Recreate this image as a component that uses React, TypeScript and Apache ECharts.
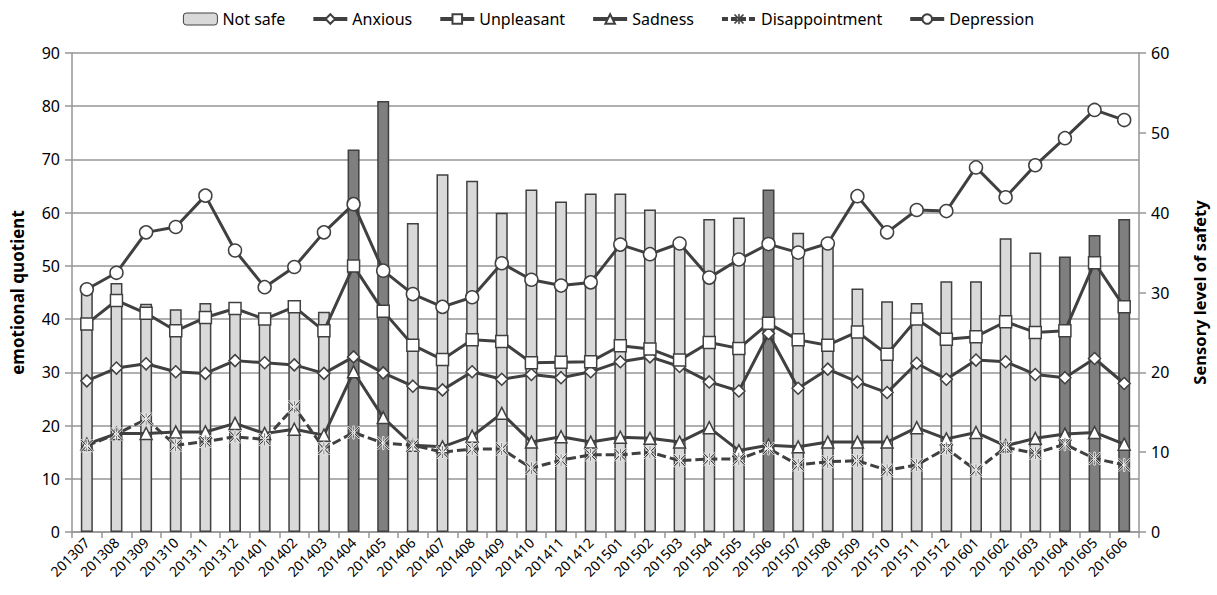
import React, { useEffect, useRef } from "react";
import * as echarts from "echarts";

// Months on the category axis
const months = [
  "201307", "201308", "201309", "201310", "201311", "201312",
  "201401", "201402", "201403", "201404", "201405", "201406",
  "201407", "201408", "201409", "201410", "201411", "201412",
  "201501", "201502", "201503", "201504", "201505", "201506",
  "201507", "201508", "201509", "201510", "201511", "201512",
  "201601", "201602", "201603", "201604", "201605", "201606",
];

// Sensory level of safety (right axis)
const notSafe = [
  30.0, 31.2, 28.6, 27.9, 28.7, 27.6,
  26.8, 28.7, 27.6, 47.9, 54.0, 38.7,
  44.8, 44.0, 40.0, 42.9, 41.4, 42.4,
  42.4, 40.4, 36.3, 39.2, 39.4, 42.9,
  37.5, 36.4, 30.5, 28.9, 28.7, 31.4,
  31.4, 36.8, 35.0, 34.5, 37.2, 39.2,
];

// Months whose safety bar is drawn in the darker shade
const highlighted = ["201404", "201405", "201506", "201604", "201605", "201606"];

// Emotional quotient series (left axis)
const anxious = [
  28.4, 30.8, 31.6, 30.1, 29.8, 32.2,
  31.8, 31.4, 29.8, 32.9, 29.9, 27.4,
  26.7, 30.1, 28.7, 29.6, 29.0, 30.1,
  32.0, 32.9, 31.1, 28.2, 26.5, 37.3,
  27.0, 30.6, 28.2, 26.2, 31.7, 28.7,
  32.3, 32.0, 29.6, 29.0, 32.6, 27.9,
];
const unpleasant = [
  39.1, 43.5, 41.1, 37.8, 40.3, 42.0,
  40.0, 42.3, 37.8, 50.0, 41.5, 35.1,
  32.4, 36.1, 35.8, 31.8, 31.9, 32.0,
  35.0, 34.4, 32.3, 35.6, 34.5, 39.2,
  36.1, 35.1, 37.6, 33.4, 40.0, 36.2,
  36.7, 39.5, 37.5, 37.8, 50.6, 42.3,
];
const sadness = [
  16.5, 18.5, 18.5, 18.8, 18.8, 20.4,
  18.5, 19.3, 18.2, 30.1, 21.5, 16.3,
  16.0, 18.0, 22.3, 16.9, 17.9, 16.9,
  17.8, 17.6, 16.9, 19.6, 15.3, 16.3,
  16.0, 16.9, 16.9, 16.9, 19.6, 17.5,
  18.7, 16.2, 17.6, 18.4, 18.7, 16.5,
];
const disappointment = [
  16.2, 18.4, 21.2, 16.3, 17.0, 17.9,
  17.4, 23.5, 15.7, 18.7, 16.7, 16.3,
  15.0, 15.6, 15.6, 12.0, 13.5, 14.5,
  14.5, 15.0, 13.4, 13.7, 13.7, 15.7,
  12.6, 13.2, 13.4, 11.6, 12.6, 15.7,
  11.6, 15.9, 14.8, 16.5, 13.8, 12.6,
];
const depression = [
  45.6, 48.7, 56.3, 57.3, 63.2, 52.9,
  46.0, 49.8, 56.3, 61.6, 49.1, 44.7,
  42.3, 44.1, 50.5, 47.4, 46.3, 46.9,
  54.0, 52.2, 54.2, 47.8, 51.2, 54.1,
  52.5, 54.2, 63.1, 56.3, 60.5, 60.3,
  68.5, 62.9, 68.9, 74.0, 79.3, 77.4,
];

const leftTicks = { min: 0, max: 90, interval: 10 };
const rightTicks = { min: 0, max: 60, interval: 10 };

const INK = "#404040";
const GRID = "#969696";
const LIGHT_BAR = "#d9d9d9";
const DARK_BAR = "#7f7f7f";
const FONT = "'Noto Sans', 'DejaVu Sans', sans-serif";

// Asterisk marker: vertical stroke plus two diagonals
const ASTERISK =
  "path://M8.8 0 L11.2 0 L11.2 20 L8.8 20 Z M0 1.8 L1.8 0 L20 18.2 L18.2 20 Z M18.2 0 L20 1.8 L1.8 20 L0 18.2 Z";

function lineSeries(name: string, data: number[], symbol: string, size: number, dashed = false) {
  const star = symbol === ASTERISK;
  return {
    name,
    type: "line",
    yAxisIndex: 0,
    data,
    symbol,
    symbolSize: size,
    z: 3,
    color: INK,
    lineStyle: { color: INK, width: 3, type: dashed ? [9, 4] : "solid" },
    itemStyle: {
      color: star ? INK : "#ffffff",
      borderColor: star ? "#ffffff" : INK,
      borderWidth: star ? 0.8 : 1.5,
    },
  };
}

export default function App() {
  const ref = useRef<HTMLDivElement>(null);

  useEffect(() => {
    document.body.style.margin = "0";
    if (!ref.current) return;
    const chart = echarts.init(ref.current, null, { renderer: "svg" });

    const barData = notSafe.map((v, i) => ({
      value: v,
      itemStyle: {
        color: highlighted.includes(months[i]) ? DARK_BAR : LIGHT_BAR,
      },
    }));

    const legendLine = { color: INK, width: 4 };

    chart.setOption({
      animation: false,
      backgroundColor: "#ffffff",
      textStyle: { fontFamily: FONT, color: "#000" },
      legend: {
        top: 6,
        left: "center",
        itemGap: 26,
        itemWidth: 34,
        itemHeight: 12,
        textStyle: { fontSize: 16, fontFamily: FONT, color: "#000" },
        data: [
          { name: "Not safe", itemStyle: { color: LIGHT_BAR, borderColor: INK, borderWidth: 1 } },
          { name: "Anxious", lineStyle: legendLine },
          { name: "Unpleasant", lineStyle: legendLine },
          { name: "Sadness", lineStyle: legendLine },
          {
            name: "Disappointment",
            lineStyle: { color: INK, width: 4, type: [6, 3] },
            itemStyle: { color: INK, borderColor: INK, borderWidth: 0.5 },
          },
          { name: "Depression", lineStyle: legendLine },
        ],
      },
      grid: { left: 72, right: 78, top: 53, bottom: 63 },
      xAxis: {
        type: "category",
        data: months,
        boundaryGap: true,
        axisLine: { lineStyle: { color: GRID, width: 1.5 } },
        axisTick: { show: true, length: 6, lineStyle: { color: GRID, width: 1.5 } },
        axisLabel: { rotate: 45, interval: 0, fontSize: 14, margin: 8, color: "#000", fontFamily: FONT },
      },
      yAxis: [
        {
          type: "value",
          ...leftTicks,
          name: "emotional quotient",
          nameLocation: "middle",
          nameGap: 46,
          nameTextStyle: { fontSize: 17, fontWeight: "bold", color: "#000", fontFamily: FONT },
          axisLine: { show: true, lineStyle: { color: GRID, width: 1.5 } },
          axisTick: { show: true, length: 7, lineStyle: { color: GRID, width: 1.5 } },
          axisLabel: { fontSize: 16, color: "#000", margin: 12, fontFamily: FONT },
          splitLine: { show: true, lineStyle: { color: GRID, width: 1.5 } },
        },
        {
          type: "value",
          ...rightTicks,
          name: "Sensory level of safety",
          nameLocation: "middle",
          nameGap: 52,
          nameRotate: 90,
          nameTextStyle: { fontSize: 16.5, fontWeight: "bold", color: "#000", fontFamily: FONT },
          axisLine: { show: true, lineStyle: { color: GRID, width: 1.5 } },
          axisTick: { show: true, length: 7, lineStyle: { color: GRID, width: 1.5 } },
          axisLabel: { fontSize: 16, color: "#000", margin: 12, fontFamily: FONT },
          splitLine: { show: false },
        },
      ],
      series: [
        {
          name: "Not safe",
          type: "bar",
          yAxisIndex: 1,
          data: barData,
          barWidth: 12,
          z: 1,
          itemStyle: { color: LIGHT_BAR, borderColor: INK, borderWidth: 1.5 },
        },
        lineSeries("Anxious", anxious, "diamond", 12),
        lineSeries("Unpleasant", unpleasant, "rect", 12),
        lineSeries("Sadness", sadness, "triangle", 12),
        lineSeries("Disappointment", disappointment, ASTERISK, 13, true),
        lineSeries("Depression", depression, "circle", 13),
      ],
    });

    return () => chart.dispose();
  }, []);

  return <div ref={ref} style={{ width: 1217, height: 595 }} />;
}
